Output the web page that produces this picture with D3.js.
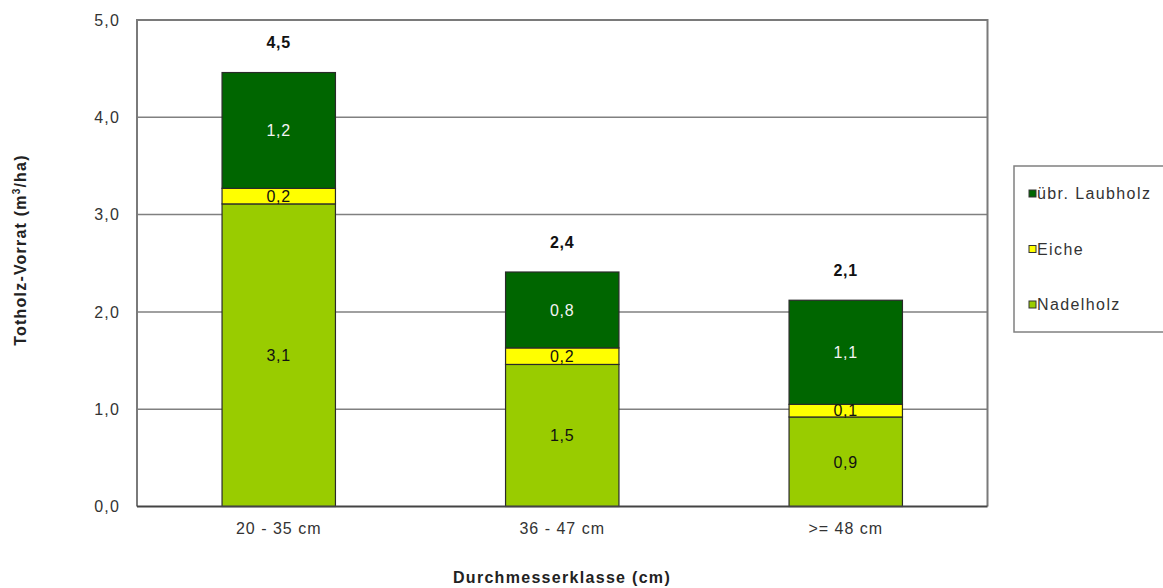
<!DOCTYPE html>
<html><head><meta charset="utf-8">
<script src="https://cdn.jsdelivr.net/npm/d3@7"></script>
<style>
body{margin:0;background:#fff;}
text{font-family:"Liberation Sans",Arial,sans-serif;}
</style></head>
<body><svg id="c" width="1163" height="588"></svg>
<script>
const categories = ["20 - 35 cm", "36 - 47 cm", ">= 48 cm"];
const seriesNames = ["Nadelholz", "Eiche", "übr. Laubholz"];
const nadelholz = [3.11, 1.46, 0.92];
const eiche = [0.16, 0.17, 0.13];
const laubholz = [1.19, 0.78, 1.07];
const yTicks = [0, 1, 2, 3, 4, 5];
const colors = ["#99cc00", "#ffff00", "#006600"];
const labelColors = ["#111", "#111", "#f4f4f4"];

const svg = d3.select("#c");
const fmt = v => d3.format(".1f")(v).replace(".", ",");
const pL = 137, pR = 987.5, pT = 20, pB = 506.5;

const x = d3.scaleBand().domain(categories).range([pL, pR]).paddingInner(0.6).paddingOuter(0.3);
const y = d3.scaleLinear().domain([0, 5]).range([pB, pT]);

const rows = categories.map((c, i) => ({cat: c, Nadelholz: nadelholz[i], Eiche: eiche[i], "übr. Laubholz": laubholz[i]}));
const stack = d3.stack().keys(seriesNames)(rows);

// gridlines
svg.append("g").selectAll("line").data(yTicks.filter(t => t > 0 && t < 5)).join("line")
  .attr("x1", pL).attr("x2", pR).attr("y1", d => y(d)).attr("y2", d => y(d))
  .attr("stroke", "#808080").attr("stroke-width", 1.5);
// plot border
svg.append("path").attr("d", `M${pL},${pB}V${y(5)}H${pR}V${pB}`)
  .attr("fill", "none").attr("stroke", "#7a7a7a").attr("stroke-width", 2);

// y axis ticks labels
const yAxis = d3.axisLeft(y).tickValues(yTicks).tickSize(0).tickPadding(17).tickFormat(fmt);
const ga = svg.append("g").attr("transform", `translate(${pL},0)`).call(yAxis);
ga.select(".domain").remove();
ga.selectAll("text").attr("font-size", 16).attr("letter-spacing", 1.2).attr("fill", "#333")
  .attr("font-family", '"Liberation Sans",Arial,sans-serif');

// bars
const layers = svg.append("g").selectAll("g").data(stack).join("g").attr("fill", (d, i) => colors[i]);
layers.selectAll("rect").data(d => d).join("rect")
  .attr("x", d => x(d.data.cat)).attr("width", x.bandwidth())
  .attr("y", d => y(d[1])).attr("height", d => y(d[0]) - y(d[1]))
  .attr("stroke", "#2a2a2a").attr("stroke-width", 1.2);

// segment labels
stack.forEach((layer, i) => {
  svg.append("g").selectAll("text").data(layer).join("text")
    .attr("x", d => x(d.data.cat) + x.bandwidth() / 2)
    .attr("y", d => (y(d[0]) + y(d[1])) / 2)
    .attr("dy", "0.36em").attr("text-anchor", "middle")
    .attr("font-size", 16).attr("letter-spacing", 0.8)
    .attr("fill", labelColors[i])
    .text(d => fmt(d[1] - d[0]));
});

// totals
svg.append("g").selectAll("text").data(rows).join("text")
  .attr("x", d => x(d.cat) + x.bandwidth() / 2)
  .attr("y", d => y(d.Nadelholz + d.Eiche + d["übr. Laubholz"]) - 30)
  .attr("dy", "0.36em").attr("text-anchor", "middle")
  .attr("font-size", 16).attr("font-weight", "bold").attr("letter-spacing", 0.8).attr("fill", "#111")
  .text(d => fmt(d.Nadelholz + d.Eiche + d["übr. Laubholz"]));

// bottom axis line
svg.append("line").attr("x1", pL).attr("x2", pR).attr("y1", pB).attr("y2", pB)
  .attr("stroke", "#444").attr("stroke-width", 2);

// category labels
const xAxis = d3.axisBottom(x).tickSize(0).tickPadding(16);
const gx = svg.append("g").attr("transform", `translate(0,${pB})`).call(xAxis);
gx.select(".domain").remove();
gx.selectAll("text").attr("font-size", 16).attr("letter-spacing", 1).attr("fill", "#333")
  .attr("font-family", '"Liberation Sans",Arial,sans-serif');

// axis titles
svg.append("text").attr("x", 562).attr("y", 577).attr("dy", "0.36em").attr("text-anchor", "middle")
  .attr("font-size", 16).attr("font-weight", "bold").attr("letter-spacing", 1.3).attr("fill", "#222")
  .text("Durchmesserklasse (cm)");
const yt = svg.append("text").attr("transform", "translate(20,250) rotate(-90)")
  .attr("text-anchor", "middle").attr("dy", "0.36em")
  .attr("font-size", 16).attr("font-weight", "bold").attr("letter-spacing", 1.2).attr("fill", "#222");
yt.append("tspan").text("Totholz-Vorrat (m");
yt.append("tspan").attr("font-size", 10).attr("dy", "-0.6em").text("3");
yt.append("tspan").attr("dy", "0.36em").text("/ha)");

// legend
svg.append("rect").attr("x", 1014).attr("y", 166).attr("width", 170).attr("height", 166)
  .attr("fill", "#fff").attr("stroke", "#808080").attr("stroke-width", 1.5);
const legendOrder = [2, 1, 0];
const lg = svg.append("g").selectAll("g").data(legendOrder).join("g")
  .attr("transform", (d, i) => `translate(1029,${193.5 + i * 55.5})`);
lg.append("rect").attr("x", 0).attr("y", -3.5).attr("width", 7).attr("height", 7)
  .attr("fill", d => colors[d]).attr("stroke", "#333").attr("stroke-width", 1);
lg.append("text").attr("x", 8).attr("dy", "0.36em").attr("font-size", 16).attr("letter-spacing", 1.4)
  .attr("fill", "#333").text(d => seriesNames[d]);
</script></body></html>
